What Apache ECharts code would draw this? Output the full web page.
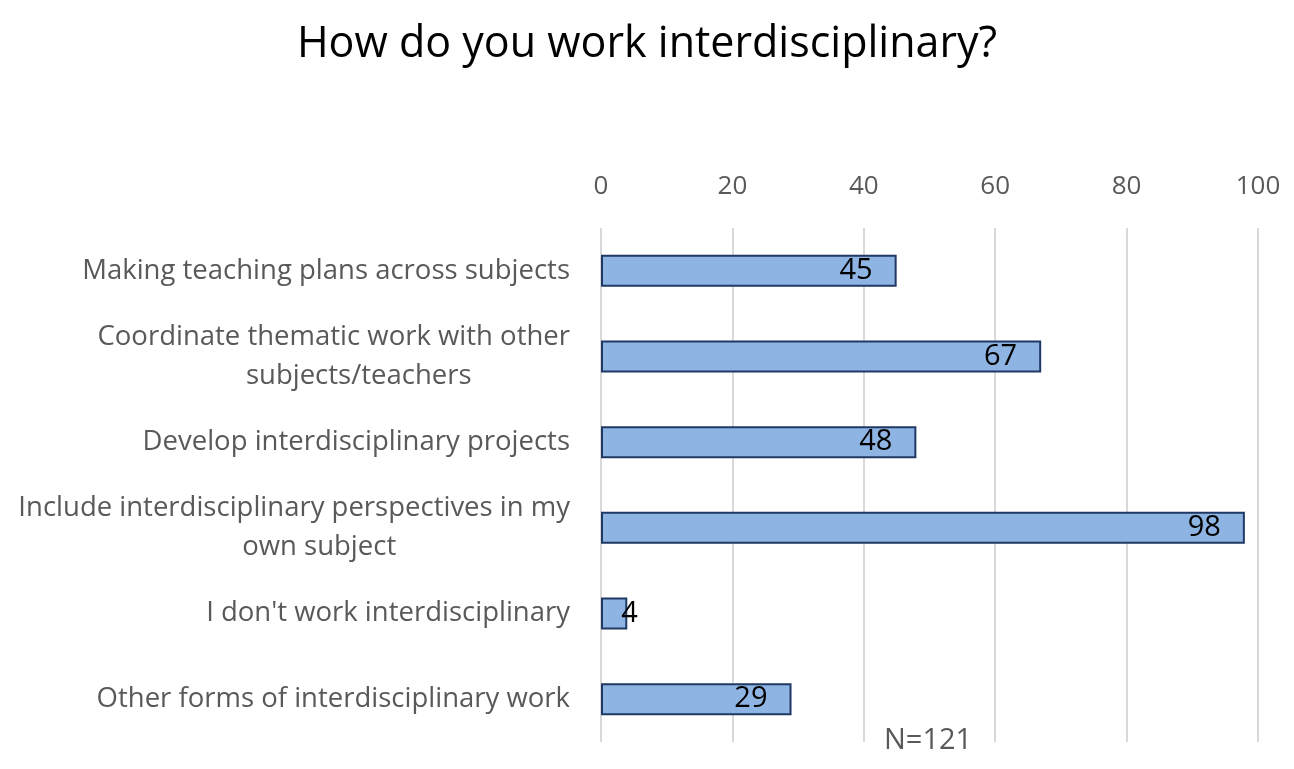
<!DOCTYPE html>
<html>
<head>
<meta charset="utf-8">
<script src="https://cdn.jsdelivr.net/npm/echarts@6/dist/echarts.min.js"></script>
<style>
html,body{margin:0;padding:0;background:#fff;}
#chart{width:1294px;height:769px;}
</style>
</head>
<body>
<div id="chart"></div>
<script>
var categories = [
	'Making teaching plans across subjects',
	'Coordinate thematic work with other\nsubjects/teachers',
	'Develop interdisciplinary projects',
	'Include interdisciplinary perspectives in my\nown subject',
	"I don't work interdisciplinary",
	'Other forms of interdisciplinary work'
];
var values = [45, 67, 48, 98, 4, 29];
var axisTicks = [0, 20, 40, 60, 80, 100];
var noteText = 'N=121';

var fontFam = '"Open Sans", "Noto Sans", sans-serif';

var seriesData = values.map(function(v) {
	var item = { value: v };
	// tiny bar: label spills past the end like in Excel
	if (v < 8) {
		item.label = { position: 'right', distance: -6 };
	}
	return item;
});

var option = {
	backgroundColor: '#fff',
	animation: false,
	title: {
		text: 'How do you work interdisciplinary?',
		left: 'center',
		top: 18,
		textStyle: {
			fontFamily: fontFam,
			fontSize: 43,
			fontWeight: 'normal',
			color: '#000'
		}
	},
	grid: {
		left: 601,
		right: 36,
		top: 228,
		bottom: 27
	},
	xAxis: {
		type: 'value',
		position: 'top',
		min: axisTicks[0],
		max: axisTicks[axisTicks.length - 1],
		interval: 20,
		axisLine: { show: false },
		axisTick: { show: false },
		axisLabel: {
			margin: 28,
			fontFamily: fontFam,
			fontSize: 26,
			color: '#595959'
		},
		splitLine: {
			lineStyle: { color: '#d9d9d9', width: 2 }
		}
	},
	yAxis: {
		type: 'category',
		inverse: true,
		data: categories,
		axisLine: { show: false },
		axisTick: { show: false },
		axisLabel: {
			margin: 31,
			formatter: function(v) {
				return v.split('\n').map(function(s, i) {
					return (i === 0 ? '{c|' : '{d|') + s + '}';
				}).join('\n');
			},
			rich: {
				c: {
					align: 'center',
					fontFamily: fontFam,
					fontSize: 27.5,
					lineHeight: 39,
					color: '#595959'
				},
				d: {
					align: 'center',
					padding: [0, 0, 0, 50],
					fontFamily: fontFam,
					fontSize: 27.5,
					lineHeight: 39,
					color: '#595959'
				}
			}
		}
	},
	series: [{
		type: 'bar',
		data: seriesData,
		barWidth: 32,
		itemStyle: {
			color: '#8eb4e3',
			borderColor: '#1f3864',
			borderWidth: 2
		},
		label: {
			show: true,
			position: 'insideRight',
			distance: 24,
			fontFamily: fontFam,
			fontSize: 29,
			color: '#000'
		}
	}],
	graphic: [{
		type: 'text',
		left: 884,
		top: 726,
		style: {
			text: noteText,
			fontFamily: fontFam,
			fontSize: 29,
			fill: '#595959'
		}
	}]
};

var myChart = echarts.init(document.getElementById('chart'));
myChart.setOption(option);
</script>
</body>
</html>
